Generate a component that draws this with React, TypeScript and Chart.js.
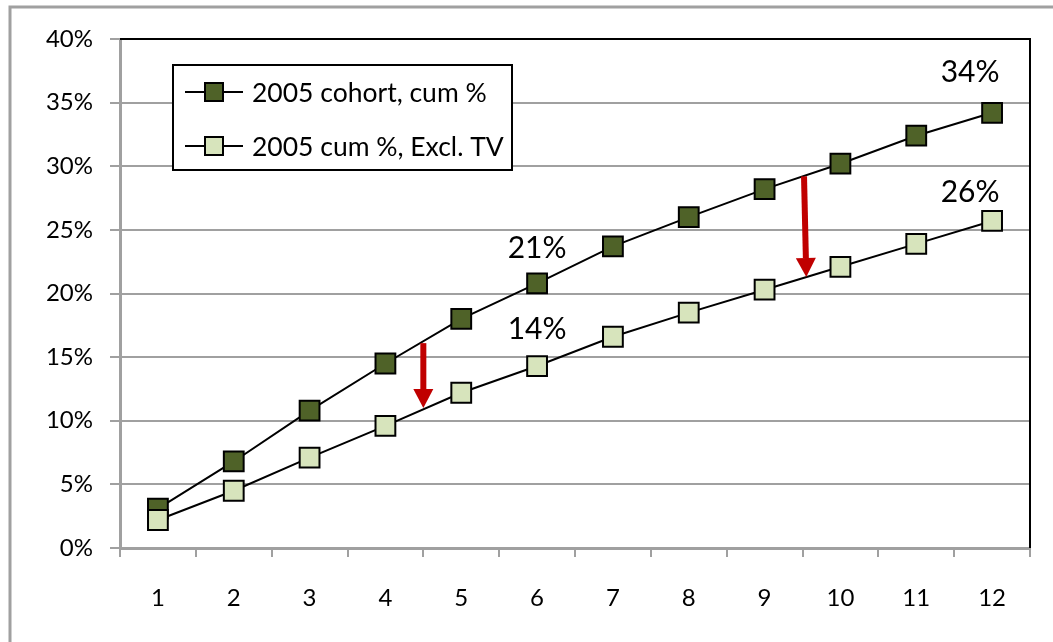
import React, { useEffect, useRef } from 'react';
import { Chart, registerables } from 'chart.js';

Chart.register(...registerables);

const categories = ['1', '2', '3', '4', '5', '6', '7', '8', '9', '10', '11', '12'];
const cohortCum = [3.1, 6.8, 10.8, 14.5, 18.0, 20.8, 23.7, 26.0, 28.2, 30.2, 32.4, 34.2];
const exclTvCum = [2.2, 4.5, 7.1, 9.6, 12.2, 14.3, 16.6, 18.5, 20.3, 22.1, 23.9, 25.7];
const seriesNames = ['2005 cohort, cum %', '2005 cum %, Excl. TV'];
const yMin = 0;
const yMax = 40;
const yStep = 5;
// labelled points: [series index, point index]
const labelledPoints = [
  [0, 5],
  [0, 11],
  [1, 5],
  [1, 11],
];
// arrows: category position (fractional) and values from/to
const arrowXFrom = [3.5, 8.52];
const arrowXTo = [3.5, 8.55];
const arrowFrom = [16.1, 29.2];
const arrowTo = [11.0, 21.3];

const FONT = 'Lato, "Open Sans", sans-serif';
const DARK = '#4F6228';
const LIGHT = '#D7E4BC';
const GRID = '#A0A0A0';
const RED = '#C00000';

const labelOffsets = [
  [0, -35],
  [-22, -40],
  [0, -37],
  [-22, -29],
];

const decorPlugin = {
  id: 'decor',
  beforeDraw(chart: any) {
    const ctx = chart.ctx;
    ctx.save();
    ctx.strokeStyle = GRID;
    ctx.lineWidth = 3;
    ctx.beginPath();
    ctx.moveTo(10, 642);
    ctx.lineTo(10, 7);
    ctx.lineTo(1053, 7);
    ctx.stroke();
    ctx.restore();
  },
  afterDatasetsDraw(chart: any) {
    const ctx = chart.ctx;
    const { left, right, top, bottom } = chart.chartArea;
    const xs = chart.scales.x;
    const ys = chart.scales.y;
    ctx.save();
    // black top/right border
    ctx.strokeStyle = '#000';
    ctx.lineWidth = 2;
    ctx.beginPath();
    ctx.moveTo(left, top);
    ctx.lineTo(right, top);
    ctx.lineTo(right, bottom);
    ctx.stroke();

    // arrows
    for (let i = 0; i < arrowFrom.length; i++) {
      const x1 = xs.getPixelForValue(arrowXFrom[i]);
      const x2 = xs.getPixelForValue(arrowXTo[i]);
      const y1 = ys.getPixelForValue(arrowFrom[i]);
      const y2 = ys.getPixelForValue(arrowTo[i]);
      const headLen = 19;
      const headHalf = 10;
      const ang = Math.atan2(y2 - y1, x2 - x1);
      const bx = x2 - headLen * Math.cos(ang);
      const by = y2 - headLen * Math.sin(ang);
      ctx.strokeStyle = RED;
      ctx.lineWidth = 6;
      ctx.beginPath();
      ctx.moveTo(x1, y1);
      ctx.lineTo(bx, by);
      ctx.stroke();
      ctx.fillStyle = RED;
      ctx.beginPath();
      ctx.moveTo(x2, y2);
      ctx.lineTo(bx + headHalf * Math.sin(ang), by - headHalf * Math.cos(ang));
      ctx.lineTo(bx - headHalf * Math.sin(ang), by + headHalf * Math.cos(ang));
      ctx.closePath();
      ctx.fill();
    }

    // data labels
    ctx.fillStyle = '#000';
    ctx.font = `30px ${FONT}`;
    ctx.textAlign = 'center';
    ctx.textBaseline = 'middle';
    labelledPoints.forEach(([s, p], k) => {
      const el = chart.getDatasetMeta(s).data[p];
      const v = chart.data.datasets[s].data[p];
      ctx.fillText(Math.round(v) + '%', el.x + labelOffsets[k][0], el.y + labelOffsets[k][1]);
    });

    // legend
    const lx = left + 53;
    const ly = top + 26;
    const lw = 339;
    const lh = 105;
    ctx.fillStyle = '#fff';
    ctx.fillRect(lx, ly, lw, lh);
    ctx.strokeStyle = '#000';
    ctx.lineWidth = 2;
    ctx.strokeRect(lx, ly, lw, lh);
    const fills = [DARK, LIGHT];
    ctx.font = `26.5px ${FONT}`;
    ctx.textAlign = 'left';
    seriesNames.forEach((name, i) => {
      const cy = ly + 27 + i * 54;
      ctx.strokeStyle = '#000';
      ctx.lineWidth = 2;
      ctx.beginPath();
      ctx.moveTo(lx + 12, cy);
      ctx.lineTo(lx + 70, cy);
      ctx.stroke();
      ctx.fillStyle = fills[i];
      ctx.fillRect(lx + 32, cy - 9, 18, 18);
      ctx.strokeRect(lx + 32, cy - 9, 18, 18);
      ctx.fillStyle = '#000';
      ctx.fillText(name, lx + 79, cy + 1);
    });
    ctx.restore();
  },
};

export default function App() {
  const ref = useRef<HTMLCanvasElement>(null);
  useEffect(() => {
    if (!ref.current) return;
    const chart = new Chart(ref.current, {
      type: 'line',
      data: {
        labels: categories,
        datasets: [
          {
            label: seriesNames[0],
            data: cohortCum,
            order: 1,
            borderColor: '#000',
            borderWidth: 2,
            backgroundColor: DARK,
            pointStyle: 'rect',
            pointRadius: 14,
            pointBorderWidth: 2,
            pointBorderColor: '#000',
            pointBackgroundColor: DARK,
            tension: 0,
          },
          {
            label: seriesNames[1],
            data: exclTvCum,
            order: 0,
            borderColor: '#000',
            borderWidth: 2,
            backgroundColor: LIGHT,
            pointStyle: 'rect',
            pointRadius: 14,
            pointBorderWidth: 2,
            pointBorderColor: '#000',
            pointBackgroundColor: LIGHT,
            tension: 0,
          },
        ],
      },
      options: {
        responsive: false,
        animation: false,
        layout: { padding: { left: 0, top: 39, right: 23, bottom: 0 } },
        plugins: { legend: { display: false }, tooltip: { enabled: false } },
        scales: {
          x: {
            type: 'category',
            offset: true,
            grid: { offset: true, drawOnChartArea: false, drawTicks: true, tickLength: 9, color: GRID, lineWidth: 2 },
            border: { color: GRID, width: 3 },
            ticks: { color: '#000', font: { family: FONT, size: 24 }, padding: 27, maxRotation: 0 },
            afterFit: (s: any) => { s.height = 94; },
          },
          y: {
            min: yMin,
            max: yMax,
            grid: { color: GRID, lineWidth: 2, tickLength: 10 },
            border: { color: GRID, width: 3 },
            ticks: {
              stepSize: yStep,
              color: '#000',
              font: { family: FONT, size: 24 },
              padding: 17,
              callback: (v: any) => v + '%',
            },
            afterFit: (s: any) => { s.width = 120; },
          },
        },
      },
      plugins: [decorPlugin],
    });
    return () => chart.destroy();
  }, []);
  return (
    <div style={{ position: 'fixed', left: 0, top: 0, width: 1053, height: 642, background: '#fff' }}>
      <canvas ref={ref} width={1053} height={642} />
    </div>
  );
}
